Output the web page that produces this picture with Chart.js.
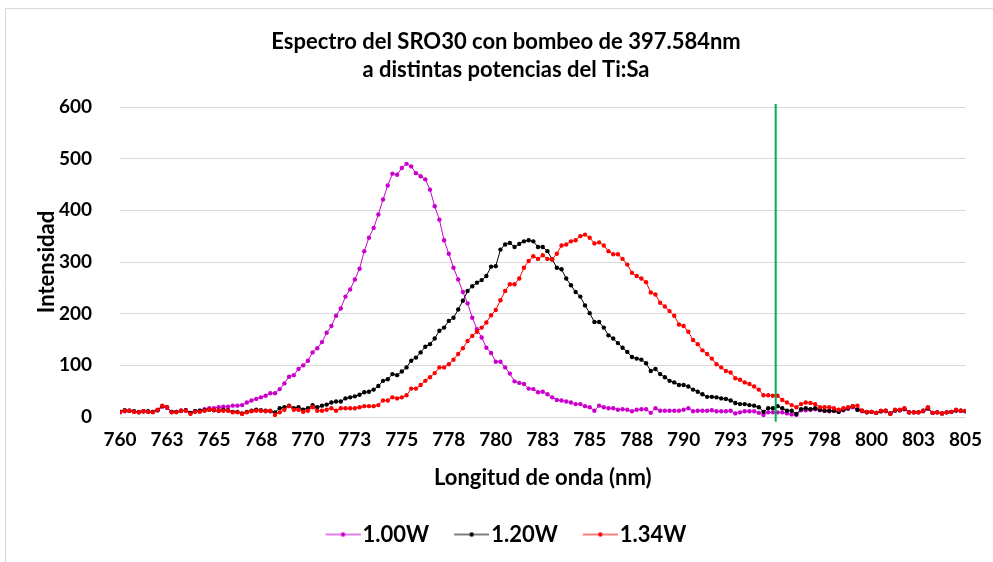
<!DOCTYPE html>
<html>
<head>
<meta charset="utf-8">
<title>Espectro del SRO30</title>
<script src="https://cdn.jsdelivr.net/npm/chart.js@4.4.1/dist/chart.umd.min.js"></script>
<style>
    html, body { margin: 0; padding: 0; background: #ffffff; }
    #wrap { position: relative; width: 993px; height: 562px; }
</style>
</head>
<body>
<div id="wrap"><canvas id="spectrum" width="993" height="562"></canvas></div>
<script>
// Wavelength samples (nm), 0.25 nm apart
const wavelengths = [
    760, 760.25, 760.5, 760.75, 761, 761.25, 761.5, 761.75, 762, 762.25,
    762.5, 762.75, 763, 763.25, 763.5, 763.75, 764, 764.25, 764.5, 764.75,
    765, 765.25, 765.5, 765.75, 766, 766.25, 766.5, 766.75, 767, 767.25,
    767.5, 767.75, 768, 768.25, 768.5, 768.75, 769, 769.25, 769.5, 769.75,
    770, 770.25, 770.5, 770.75, 771, 771.25, 771.5, 771.75, 772, 772.25,
    772.5, 772.75, 773, 773.25, 773.5, 773.75, 774, 774.25, 774.5, 774.75,
    775, 775.25, 775.5, 775.75, 776, 776.25, 776.5, 776.75, 777, 777.25,
    777.5, 777.75, 778, 778.25, 778.5, 778.75, 779, 779.25, 779.5, 779.75,
    780, 780.25, 780.5, 780.75, 781, 781.25, 781.5, 781.75, 782, 782.25,
    782.5, 782.75, 783, 783.25, 783.5, 783.75, 784, 784.25, 784.5, 784.75,
    785, 785.25, 785.5, 785.75, 786, 786.25, 786.5, 786.75, 787, 787.25,
    787.5, 787.75, 788, 788.25, 788.5, 788.75, 789, 789.25, 789.5, 789.75,
    790, 790.25, 790.5, 790.75, 791, 791.25, 791.5, 791.75, 792, 792.25,
    792.5, 792.75, 793, 793.25, 793.5, 793.75, 794, 794.25, 794.5, 794.75,
    795, 795.25, 795.5, 795.75, 796, 796.25, 796.5, 796.75, 797, 797.25,
    797.5, 797.75, 798, 798.25, 798.5, 798.75, 799, 799.25, 799.5, 799.75,
    800, 800.25, 800.5, 800.75, 801, 801.25, 801.5, 801.75, 802, 802.25,
    802.5, 802.75, 803, 803.25, 803.5, 803.75, 804, 804.25, 804.5, 804.75,
    805
];

// Intensity at 1.00 W
const power100 = [
    10, 11, 12, 10, 10, 11, 10, 10, 13, 20,
    18, 10, 10, 12, 13, 8, 11, 12, 15, 17,
    17, 19, 20, 20, 22, 22, 23, 28, 32, 35,
    38, 41, 46, 46, 54, 65, 78, 81, 93, 100,
    109, 125, 133, 145, 163, 176, 196, 210, 233, 247,
    266, 287, 321, 347, 366, 392, 421, 448, 471, 469,
    482, 490, 485, 472, 466, 460, 440, 408, 382, 342,
    316, 289, 266, 242, 220, 192, 170, 154, 134, 124,
    107, 107, 96, 84, 69, 66, 64, 55, 54, 48,
    49, 44, 38, 33, 32, 30, 28, 25, 25, 21,
    19, 12, 22, 19, 17, 17, 14, 15, 14, 11,
    14, 15, 15, 8, 17, 12, 12, 12, 12, 12,
    14, 17, 11, 12, 12, 12, 13, 11, 11, 11,
    12, 7, 9, 11, 11, 11, 8, 4, 9, 9,
    9, 9, 7, 5, 4, 13, 13, 14, 15, 13,
    12, 11, 12, 10, 13, 16, 19, 14, 11, 9,
    10, 8, 11, 11, 7, 12, 13, 15, 9, 9,
    9, 11, 16, 8, 9, 7, 9, 10, 12, 12,
    11
];

// Intensity at 1.20 W
const power120 = [
    10, 13, 12, 11, 9, 11, 11, 10, 13, 21,
    19, 10, 10, 12, 13, 8, 11, 12, 13, 14,
    13, 12, 14, 13, 10, 10, 7, 10, 12, 14,
    13, 12, 11, 9, 17, 19, 22, 17, 19, 14,
    17, 23, 19, 22, 24, 28, 30, 30, 36, 38,
    40, 43, 48, 49, 53, 60, 70, 73, 83, 81,
    88, 96, 109, 115, 125, 136, 141, 152, 167, 173,
    186, 192, 208, 225, 244, 253, 260, 265, 273, 291,
    292, 324, 334, 337, 329, 335, 340, 342, 340, 329,
    329, 321, 305, 289, 286, 268, 255, 242, 233, 216,
    201, 184, 184, 173, 158, 152, 143, 134, 126, 116,
    113, 111, 104, 89, 93, 83, 77, 70, 67, 62,
    62, 59, 53, 49, 44, 39, 39, 38, 36, 35,
    32, 27, 25, 25, 23, 22, 19, 10, 17, 17,
    21, 17, 12, 12, 6, 15, 17, 15, 17, 14,
    12, 12, 12, 10, 14, 17, 21, 14, 12, 9,
    10, 8, 11, 12, 7, 13, 13, 16, 9, 9,
    9, 12, 17, 8, 9, 7, 9, 10, 13, 12,
    11
];

// Intensity at 1.34 W
const power134 = [
    9, 12, 12, 10, 9, 11, 10, 9, 14, 22,
    19, 9, 9, 12, 12, 6, 10, 10, 12, 14,
    14, 12, 12, 12, 9, 9, 6, 9, 11, 12,
    12, 11, 12, 4, 9, 14, 21, 14, 14, 10,
    12, 19, 12, 12, 14, 17, 12, 17, 17, 17,
    17, 19, 21, 21, 21, 23, 32, 32, 38, 36,
    38, 42, 55, 55, 62, 70, 77, 85, 96, 96,
    102, 111, 122, 133, 147, 157, 165, 173, 183, 197,
    207, 226, 244, 257, 257, 268, 289, 302, 311, 306,
    313, 306, 305, 316, 332, 334, 340, 342, 350, 353,
    347, 336, 338, 332, 321, 315, 315, 306, 295, 279,
    273, 268, 261, 241, 237, 221, 214, 205, 196, 179,
    176, 165, 149, 141, 129, 122, 113, 102, 96, 89,
    86, 75, 72, 67, 64, 59, 53, 42, 42, 41,
    41, 33, 28, 23, 19, 25, 28, 27, 25, 19,
    19, 19, 17, 14, 17, 19, 21, 22, 12, 10,
    10, 8, 12, 12, 6, 14, 14, 17, 9, 9,
    9, 12, 19, 8, 9, 7, 9, 10, 14, 12,
    12
];

const seriesLabels = ['1.00W', '1.20W', '1.34W'];
const seriesColors = ['#CC00CC', '#000000', '#FF0000'];

// Vertical reference line (nm) and its span in intensity units
const markerWavelength = 794.9;
const markerSpan = [-9, 606];

const FONT = 'Lato, "Open Sans", "DejaVu Sans", sans-serif';

function toPoints(values) {
    return values.map((v, i) => ({ x: wavelengths[i], y: v }));
}

// Small line-with-dot glyph for legend entries
function legendGlyph(color) {
    const c = document.createElement('canvas');
    c.width = 44;
    c.height = 8;
    const g = c.getContext('2d');
    g.strokeStyle = color;
    g.lineWidth = 1.2;
    g.beginPath();
    g.moveTo(9, 4);
    g.lineTo(44, 4);
    g.stroke();
    g.fillStyle = color;
    g.beginPath();
    g.arc(26.5, 4, 2.2, 0, Math.PI * 2);
    g.fill();
    return c;
}
const glyphs = seriesColors.map(legendGlyph);

function spectrumDataset(label, values, color, order) {
    return {
        label: label,
        data: toPoints(values),
        borderColor: color,
        backgroundColor: color,
        borderWidth: 1,
        pointRadius: 2.2,
        pointBorderWidth: 0,
        pointBackgroundColor: color,
        tension: 0,
        order: order
    };
}

// Thin frame along the top and left edges
const framePlugin = {
    id: 'frame',
    beforeDraw(chart) {
        const ctx = chart.ctx;
        ctx.save();
        ctx.strokeStyle = '#d9d9d9';
        ctx.lineWidth = 1;
        ctx.beginPath();
        ctx.moveTo(5.5, 600);
        ctx.lineTo(5.5, 8.5);
        ctx.lineTo(1000, 8.5);
        ctx.stroke();
        ctx.restore();
    }
};

const ctx = document.getElementById('spectrum').getContext('2d');
new Chart(ctx, {
    type: 'line',
    data: {
        datasets: [
            spectrumDataset(seriesLabels[0], power100, seriesColors[0], 3),
            spectrumDataset(seriesLabels[1], power120, seriesColors[1], 2),
            spectrumDataset(seriesLabels[2], power134, seriesColors[2], 1),
            {
                label: 'marker',
                data: markerSpan.map(y => ({ x: markerWavelength, y: y })),
                borderColor: '#00B050',
                borderWidth: 2,
                pointRadius: 0,
                clip: false,
                order: 0
            }
        ]
    },
    options: {
        responsive: false,
        animation: false,
        devicePixelRatio: 1,
        layout: { padding: { left: 45, right: 26, top: 0, bottom: 6.5 } },
        plugins: {
            tooltip: { enabled: false },
            title: {
                display: true,
                text: ['Espectro del SRO30 con bombeo de 397.584nm', 'a distintas potencias del Ti:Sa'],
                color: '#000000',
                font: { family: FONT, size: 22, weight: 'bold', lineHeight: '28px' },
                padding: { top: 28, bottom: 23 }
            },
            legend: {
                position: 'bottom',
                labels: {
                    color: '#000000',
                    font: { family: FONT, size: 22, weight: 'bold' },
                    usePointStyle: true,
                    pointStyleWidth: 26,
                    padding: 25,
                    filter: item => item.datasetIndex < 3,
                    sort: (a, b) => a.datasetIndex - b.datasetIndex,
                    generateLabels(chart) {
                        const items = Chart.defaults.plugins.legend.labels.generateLabels(chart);
                        return items.map(item => {
                            if (item.datasetIndex < 3) {
                                item.pointStyle = glyphs[item.datasetIndex];
                            }
                            return item;
                        });
                    }
                }
            }
        },
        scales: {
            x: {
                type: 'linear',
                min: 760,
                max: 805,
                afterFit(scale) { scale.height = 81.5; },
                grid: { display: false, drawTicks: false },
                border: { display: false },
                ticks: {
                    stepSize: 2.5,
                    autoSkip: false,
                    maxRotation: 0,
                    padding: 11,
                    color: '#000000',
                    font: { family: FONT, size: 19, weight: 'bold' },
                    callback: value => Math.round(value)
                },
                title: {
                    display: true,
                    text: 'Longitud de onda (nm)',
                    color: '#000000',
                    font: { family: FONT, size: 22, weight: 'bold' },
                    padding: { top: 0, bottom: 7.3 }
                }
            },
            y: {
                min: 0,
                max: 600,
                afterFit(scale) { scale.width = 75; },
                grid: { color: '#d9d9d9', lineWidth: 1, drawTicks: false },
                border: { display: false },
                ticks: {
                    stepSize: 100,
                    padding: 28,
                    color: '#000000',
                    font: { family: FONT, size: 19, weight: 'bold' }
                },
                title: {
                    display: true,
                    text: 'Intensidad',
                    color: '#000000',
                    font: { family: FONT, size: 22, weight: 'bold' },
                    padding: { top: -11.2, bottom: 0 }
                }
            }
        }
    },
    plugins: [framePlugin]
});
</script>
</body>
</html>
